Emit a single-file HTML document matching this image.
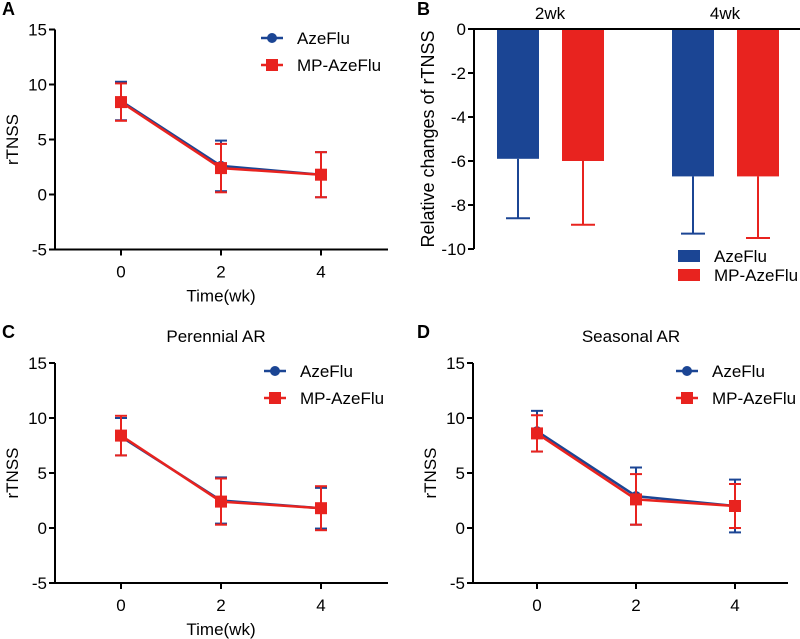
<!DOCTYPE html>
<html><head><meta charset="utf-8">
<style>
html,body{margin:0;padding:0;background:#fff;}
svg{display:block;font-family:"Liberation Sans",Arial,sans-serif;}
</style></head>
<body>
<svg id="fig" width="800" height="639" viewBox="0 0 800 639"></svg>
<script>
// ---- data ----
const timeWeeks = [0, 2, 4];
const lineTicks = [-5, 0, 5, 10, 15];
const seriesNames = ["AzeFlu", "MP-AzeFlu"];
// Panel A
const aAze = [8.5, 2.6, 1.8];
const aAzeErr = [1.75, 2.3, 2.05];
const aMp = [8.4, 2.4, 1.8];
const aMpErr = [1.7, 2.2, 2.05];
// Panel C
const cAze = [8.3, 2.5, 1.8];
const cAzeErr = [1.7, 2.1, 1.85];
const cMp = [8.4, 2.4, 1.8];
const cMpErr = [1.8, 2.1, 2.0];
// Panel D
const dAze = [8.8, 2.9, 2.0];
const dAzeErr = [1.85, 2.6, 2.4];
const dMp = [8.6, 2.6, 2.0];
const dMpErr = [1.65, 2.3, 2.0];
// Panel B
const barCategories = ["2wk", "4wk"];
const barAze = [-5.9, -6.7];
const barAzeErr = [2.7, 2.6];
const barMp = [-6.0, -6.7];
const barMpErr = [2.9, 2.8];
const barTicks = [0, -2, -4, -6, -8, -10];

const BLUE = "#1b4594", RED = "#e8231f";
const FS = 17;
const NS = "http://www.w3.org/2000/svg";
const svg = document.getElementById("fig");
function mk(tag, attrs, parent, text) {
  const e = document.createElementNS(NS, tag);
  for (const k in attrs) e.setAttribute(k, attrs[k]);
  if (text !== undefined) e.textContent = text;
  (parent || svg).appendChild(e);
  return e;
}

function linePanel(cfg) {
  const g = mk("g", {});
  
  
  const y = v => cfg.y0 + (v - 0) * (cfg.ym5 - cfg.y0) / -5;
  const x = t => cfg.x0 + (t / 2) * cfg.dx;
  const ya = mk("line", {x1: cfg.ax, y1: y(15), x2: cfg.ax, y2: y(-5), stroke: "#000", "stroke-width": 2}, g);
  
  
  const xa = mk("line", {x1: cfg.ax - 1, y1: y(-5), x2: cfg.xend, y2: y(-5), stroke: "#000", "stroke-width": 2}, g);
  
  
  lineTicks.forEach(t => {
    mk("line", {x1: cfg.ax - 6, y1: y(t), x2: cfg.ax, y2: y(t), stroke: "#000", "stroke-width": 2}, g);
    const tl = mk("text", {x: cfg.ax - 8, y: y(t) + 6, "text-anchor": "end", "font-size": FS}, g, String(t));
    
    
  });
  timeWeeks.forEach(t => {
    mk("line", {x1: x(t), y1: y(-5), x2: x(t), y2: y(-5) + 6, stroke: "#000", "stroke-width": 2}, g);
    const tl = mk("text", {x: x(t), y: y(-5) + 28, "text-anchor": "middle", "font-size": FS}, g, String(t));
    
    
  });
  const yt = mk("text", {x: 0, y: 0, transform: `translate(${cfg.ax - 37},${y(5)}) rotate(-90)`, "text-anchor": "middle", "font-size": FS}, g, "rTNSS");
  
  
  if (cfg.xtitle) {
    const xt = mk("text", {x: x(2), y: y(-5) + 52, "text-anchor": "middle", "font-size": FS}, g, "Time(wk)");
    
    
  }
  if (cfg.title) {
    const tt = mk("text", {x: x(2) - 5, y: cfg.titleY, "text-anchor": "middle", "font-size": FS}, g, cfg.title);
    
    
  }
  const lt = mk("text", {x: cfg.lx, y: cfg.ly, "font-size": 18, "font-weight": "bold"}, g, cfg.letter);
  
  
  const series = [[cfg.aze, cfg.azeErr, BLUE, "circle"], [cfg.mp, cfg.mpErr, RED, "square"]];
  series.forEach(([vals, errs, col, shape], si) => {
    const sg = mk("g", {}, g);
    
    
    const pts = vals.map((v, i) => x(timeWeeks[i]) + "," + y(v)).join(" ");
    mk("polyline", {points: pts, fill: "none", stroke: col, "stroke-width": 2.5}, sg);
    vals.forEach((v, i) => {
      const cx = x(timeWeeks[i]), e = errs[i];
      mk("line", {x1: cx, y1: y(v + e), x2: cx, y2: y(v - e), stroke: col, "stroke-width": 2}, sg);
      mk("line", {x1: cx - 6, y1: y(v + e), x2: cx + 6, y2: y(v + e), stroke: col, "stroke-width": 2}, sg);
      mk("line", {x1: cx - 6, y1: y(v - e), x2: cx + 6, y2: y(v - e), stroke: col, "stroke-width": 2}, sg);
      let m;
      if (shape === "circle") m = mk("circle", {cx: cx, cy: y(v), r: 5, fill: col}, sg);
      else m = mk("rect", {x: cx - 6, y: y(v) - 6, width: 12, height: 12, fill: col}, sg);
      
      
    });
  });
  [[BLUE, "circle", 0], [RED, "square", 1]].forEach(([col, shape, i]) => {
    const lg = mk("g", {}, g);
    
    
    const ly = cfg.legY + i * 27;
    mk("line", {x1: cfg.legX, y1: ly, x2: cfg.legX + 22, y2: ly, stroke: col, "stroke-width": 2.5}, lg);
    if (shape === "circle") mk("circle", {cx: cfg.legX + 11, cy: ly, r: 5, fill: col}, lg);
    else mk("rect", {x: cfg.legX + 5, y: ly - 6, width: 12, height: 12, fill: col}, lg);
    mk("text", {x: cfg.legX + 36, y: ly + 6, "font-size": FS}, lg, seriesNames[i]);
  });
}

linePanel({name: "panel-a", letter: "A", lx: 2, ly: 15, ax: 55, xend: 388, x0: 121, dx: 100, y0: 194.5, ym5: 249.5,
  aze: aAze, azeErr: aAzeErr, mp: aMp, mpErr: aMpErr, xtitle: true, legX: 261, legY: 38});
linePanel({name: "panel-c", letter: "C", lx: 2, ly: 338, ax: 55, xend: 388, x0: 121, dx: 100, y0: 528, ym5: 583,
  aze: cAze, azeErr: cAzeErr, mp: cMp, mpErr: cMpErr, xtitle: true, title: "Perennial AR", titleY: 342, legX: 264, legY: 371});
linePanel({name: "panel-d", letter: "D", lx: 417, ly: 338, ax: 473, xend: 788, x0: 537, dx: 99, y0: 528, ym5: 583,
  aze: dAze, azeErr: dAzeErr, mp: dMp, mpErr: dMpErr, xtitle: false, title: "Seasonal AR", titleY: 342, legX: 676, legY: 371});

(function () {
  const g = mk("g", {});
  
  
  const ax = 474, y = v => 29 - v * 22;
  const groupX = [518, 693], bw = 42;
  const lt = mk("text", {x: 417, y: 15, "font-size": 18, "font-weight": "bold"}, g, "B");
  
  
  [[barAze, barAzeErr, BLUE, 0], [barMp, barMpErr, RED, 1]].forEach(([vals, errs, col, si]) => {
    vals.forEach((v, i) => {
      const cx = groupX[i] + si * 65;
      const r = mk("rect", {x: cx - bw / 2, y: y(0), width: bw, height: y(v) - y(0), fill: col}, g);
      
      
      mk("line", {x1: cx, y1: y(v), x2: cx, y2: y(v - errs[i]), stroke: col, "stroke-width": 2}, g);
      mk("line", {x1: cx - 12, y1: y(v - errs[i]), x2: cx + 12, y2: y(v - errs[i]), stroke: col, "stroke-width": 2}, g);
    });
  });
  const ya = mk("line", {x1: ax, y1: y(0), x2: ax, y2: y(-10), stroke: "#000", "stroke-width": 2}, g);
  
  
  const xa = mk("line", {x1: ax, y1: y(0), x2: 800, y2: y(0), stroke: "#000", "stroke-width": 2}, g);
  
  
  barTicks.forEach(t => {
    mk("line", {x1: ax - 6, y1: y(t), x2: ax, y2: y(t), stroke: "#000", "stroke-width": 2}, g);
    const tl = mk("text", {x: ax - 8, y: y(t) + 6, "text-anchor": "end", "font-size": FS}, g, String(t));
    
    
  });
  barCategories.forEach((c, i) => {
    const tl = mk("text", {x: groupX[i] + 32, y: 19, "text-anchor": "middle", "font-size": FS}, g, c);
    
    
  });
  const yt = mk("text", {x: 0, y: 0, transform: `translate(434,${y(-5)}) rotate(-90)`, "text-anchor": "middle", "font-size": 18}, g, "Relative changes of rTNSS");
  
  
  [[BLUE, 0], [RED, 1]].forEach(([col, i]) => {
    const lg = mk("g", {}, g);
    
    
    const ly = 256 + i * 19;
    mk("rect", {x: 678, y: ly - 6, width: 22, height: 12, fill: col}, lg);
    mk("text", {x: 714, y: ly + 6, "font-size": FS}, lg, seriesNames[i]);
  });
})();
</script>
</body></html>
